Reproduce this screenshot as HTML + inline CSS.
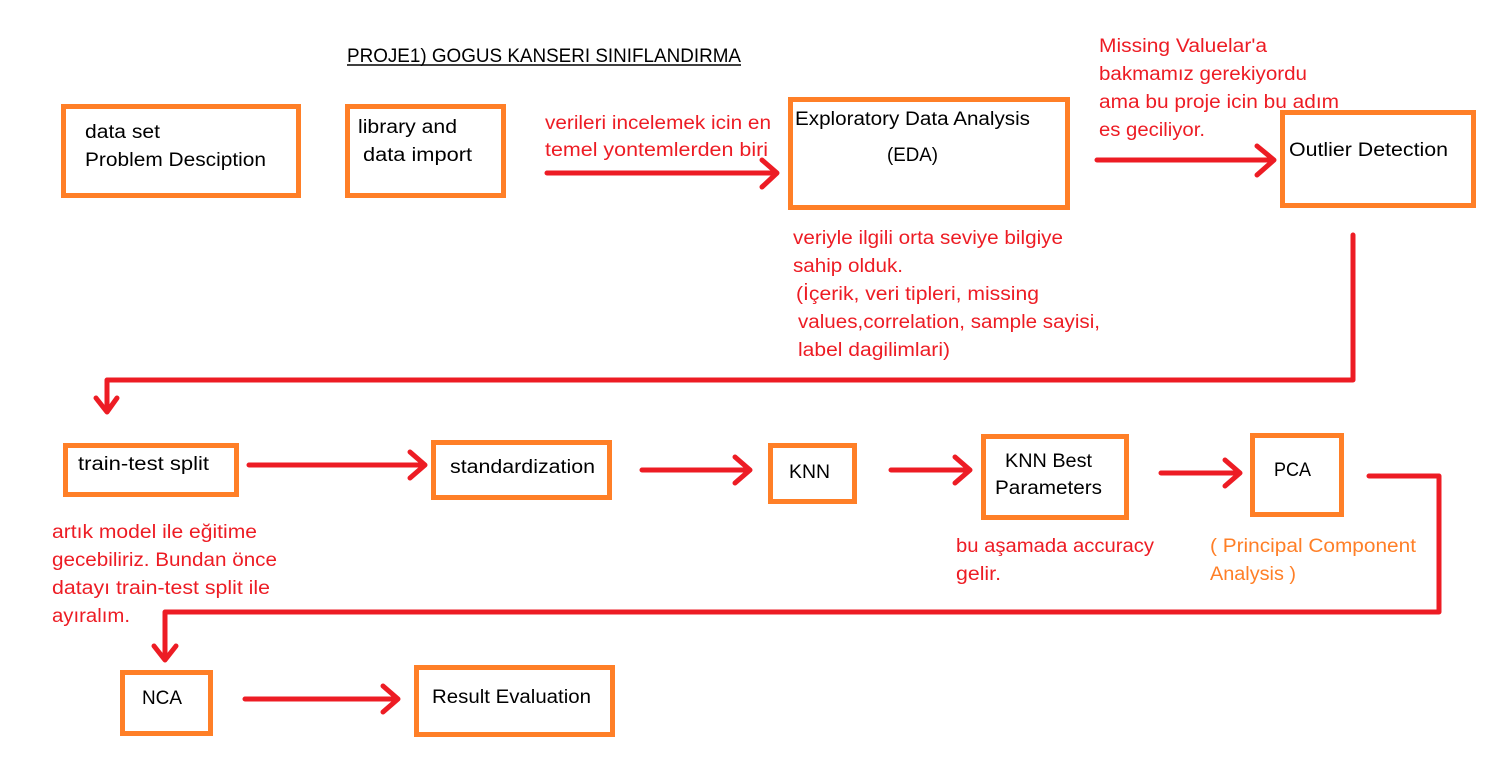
<!DOCTYPE html>
<html><head><meta charset="utf-8"><style>
html,body{margin:0;padding:0;background:#fff;}
svg text{font-family:"Liberation Sans",sans-serif;font-size:19px;}
.b{fill:#000}.r{fill:#ed1c24}.o{fill:#ff7f27}
</style></head><body>
<svg width="1503" height="759" viewBox="0 0 1503 759" xmlns="http://www.w3.org/2000/svg">
<g fill="none" stroke="#ff7f27" stroke-width="5">
<rect x="63.5" y="106.5" width="235" height="89"/>
<rect x="347.5" y="106.5" width="156" height="89"/>
<rect x="790.5" y="99.5" width="277" height="108"/>
<rect x="1282.5" y="112.5" width="191" height="93"/>
<rect x="65.5" y="445.5" width="171" height="49"/>
<rect x="433.5" y="442.5" width="176" height="55"/>
<rect x="770.5" y="445.5" width="84" height="56"/>
<rect x="983.5" y="436.5" width="143" height="81"/>
<rect x="1252.5" y="435.5" width="89" height="79"/>
<rect x="122.5" y="672.5" width="88" height="61"/>
<rect x="416.5" y="667.5" width="196" height="67"/>
</g>
<g fill="none" stroke="#ed1c24" stroke-width="5" stroke-linecap="round" stroke-linejoin="round">
<path d="M547 173H776M762 160L777 173L762 187"/>
<path d="M1097 160H1273M1257 146L1274 160L1257 175"/>
<path d="M1353 235V380H107V411M96 398L107 412L117 398"/>
<path d="M249 465H424M410 452L425 465L410 478"/>
<path d="M642 470H749M735 457L750 470L735 483"/>
<path d="M891 470H969M955 457L970 470L955 483"/>
<path d="M1161 473H1239M1225 460L1240 473L1225 486"/>
<path d="M1369 476H1439V612H165V659M154 646L165 660L176 646"/>
<path d="M245 699H397M383 686L398 699L383 712"/>
</g>
<g lengthAdjust="spacingAndGlyphs">
<text class="b" x="347" y="62" textLength="394" lengthAdjust="spacingAndGlyphs">PROJE1) GOGUS KANSERI SINIFLANDIRMA</text>
<line x1="347" y1="65" x2="741" y2="65" stroke="#000" stroke-width="1.5"/>
<text class="b" x="85" y="138" textLength="75" lengthAdjust="spacingAndGlyphs">data set</text>
<text class="b" x="85" y="166" textLength="181" lengthAdjust="spacingAndGlyphs">Problem Desciption</text>
<text class="b" x="358" y="133" textLength="99" lengthAdjust="spacingAndGlyphs">library and</text>
<text class="b" x="363" y="161" textLength="109" lengthAdjust="spacingAndGlyphs">data import</text>
<text class="r" x="545" y="129" textLength="226" lengthAdjust="spacingAndGlyphs">verileri incelemek icin en</text>
<text class="r" x="545" y="156" textLength="223" lengthAdjust="spacingAndGlyphs">temel yontemlerden biri</text>
<text class="b" x="795" y="125" textLength="235" lengthAdjust="spacingAndGlyphs">Exploratory Data Analysis</text>
<text class="b" x="887" y="161" textLength="51" lengthAdjust="spacingAndGlyphs">(EDA)</text>
<text class="r" x="1099" y="52" textLength="168" lengthAdjust="spacingAndGlyphs">Missing Valuelar'a</text>
<text class="r" x="1099" y="80" textLength="208" lengthAdjust="spacingAndGlyphs">bakmamız gerekiyordu</text>
<text class="r" x="1099" y="108" textLength="240" lengthAdjust="spacingAndGlyphs">ama bu proje icin bu adım</text>
<text class="r" x="1099" y="136" textLength="106" lengthAdjust="spacingAndGlyphs">es geciliyor.</text>
<text class="b" x="1289" y="156" textLength="159" lengthAdjust="spacingAndGlyphs">Outlier Detection</text>
<text class="r" x="793" y="244" textLength="270" lengthAdjust="spacingAndGlyphs">veriyle ilgili orta seviye bilgiye</text>
<text class="r" x="793" y="272" textLength="110" lengthAdjust="spacingAndGlyphs">sahip olduk.</text>
<text class="r" x="796" y="300" textLength="243" lengthAdjust="spacingAndGlyphs">(İçerik, veri tipleri, missing</text>
<text class="r" x="798" y="328" textLength="302" lengthAdjust="spacingAndGlyphs">values,correlation, sample sayisi,</text>
<text class="r" x="798" y="356" textLength="152" lengthAdjust="spacingAndGlyphs">label dagilimlari)</text>
<text class="b" x="78" y="470" textLength="131" lengthAdjust="spacingAndGlyphs">train-test split</text>
<text class="b" x="450" y="473" textLength="145" lengthAdjust="spacingAndGlyphs">standardization</text>
<text class="b" x="789" y="478" textLength="41" lengthAdjust="spacingAndGlyphs">KNN</text>
<text class="b" x="1005" y="467" textLength="87" lengthAdjust="spacingAndGlyphs">KNN Best</text>
<text class="b" x="995" y="494" textLength="107" lengthAdjust="spacingAndGlyphs">Parameters</text>
<text class="b" x="1274" y="476" textLength="37" lengthAdjust="spacingAndGlyphs">PCA</text>
<text class="r" x="52" y="538" textLength="205" lengthAdjust="spacingAndGlyphs">artık model ile eğitime</text>
<text class="r" x="52" y="566" textLength="225" lengthAdjust="spacingAndGlyphs">gecebiliriz. Bundan önce</text>
<text class="r" x="52" y="594" textLength="218" lengthAdjust="spacingAndGlyphs">datayı train-test split ile</text>
<text class="r" x="52" y="622" textLength="78" lengthAdjust="spacingAndGlyphs">ayıralım.</text>
<text class="r" x="956" y="552" textLength="198" lengthAdjust="spacingAndGlyphs">bu aşamada accuracy</text>
<text class="r" x="956" y="580" textLength="45" lengthAdjust="spacingAndGlyphs">gelir.</text>
<text class="o" x="1210" y="552" textLength="206" lengthAdjust="spacingAndGlyphs">( Principal Component</text>
<text class="o" x="1210" y="580" textLength="86" lengthAdjust="spacingAndGlyphs">Analysis )</text>
<text class="b" x="142" y="704" textLength="40" lengthAdjust="spacingAndGlyphs">NCA</text>
<text class="b" x="432" y="703" textLength="159" lengthAdjust="spacingAndGlyphs">Result Evaluation</text>
</g>
</svg>
</body></html>
